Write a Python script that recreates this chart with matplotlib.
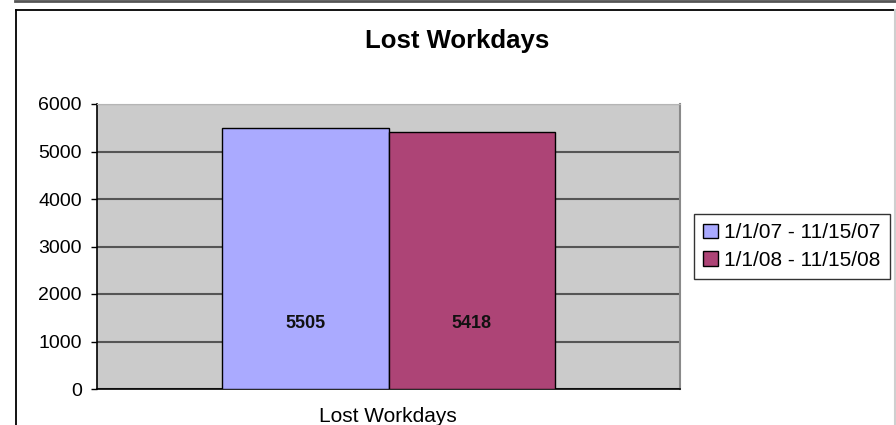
import matplotlib
matplotlib.use("Agg")
import matplotlib.pyplot as plt
from matplotlib.lines import Line2D
import numpy as np

# data
categories = ["Lost Workdays"]
series_names = ["1/1/07 - 11/15/07", "1/1/08 - 11/15/08"]
values_2007 = [5505]
values_2008 = [5418]
y_ticks = [0, 1000, 2000, 3000, 4000, 5000, 6000]

plt.rcParams['font.family'] = ['Liberation Sans', 'DejaVu Sans']

W, H = 896, 425
fig = plt.figure(figsize=(W / 100, H / 100), dpi=100)

# frame around the chart (screenshot border)
fig.add_artist(Line2D([15 / W, 1], [1 - 1 / H, 1 - 1 / H], color='#555555', lw=2))
fig.add_artist(Line2D([16 / W, 1], [1 - 9.5 / H, 1 - 9.5 / H], color='black', lw=1.3))
fig.add_artist(Line2D([16 / W, 16 / W], [0, 1 - 9.5 / H], color='black', lw=1.3))
fig.add_artist(Line2D([895 / W, 895 / W], [0, 1 - 10 / H], color='#cfcfcf', lw=1.5))

ax = fig.add_axes([97 / W, (H - 389) / H, 583 / W, 285 / H])
ax.set_facecolor('#cbcbcb')

x = np.arange(len(categories))
width = 0.2857
bars1 = ax.bar(x - width / 2, values_2007, width, color='#aaaaff', edgecolor='black',
               linewidth=1.0, label=series_names[0], zorder=3)
bars2 = ax.bar(x + width / 2, values_2008, width, color='#ad4476', edgecolor='black',
               linewidth=1.0, label=series_names[1], zorder=3)

for b, v in zip(list(bars1) + list(bars2), values_2007 + values_2008):
    ax.text(b.get_x() + b.get_width() / 2, 1380, str(v), ha='center', va='center',
            fontsize=13, fontweight='bold', color='#111111', zorder=4)

ax.set_xlim(-0.5, 0.5)
ax.set_ylim(0, 6000)
ax.set_yticks(y_ticks)
ax.set_yticklabels([str(t) for t in y_ticks], fontsize=14)
ax.set_xticks([])
ax.yaxis.grid(True, color='#555555', linewidth=1.5, zorder=1)
ax.set_axisbelow(True)
ax.tick_params(axis='y', direction='out', length=4, width=1, pad=7, colors='black')

ax.spines['left'].set_color('black')
ax.spines['bottom'].set_color('black')
ax.spines['left'].set_linewidth(1.2)
ax.spines['bottom'].set_linewidth(1.2)
ax.spines['top'].set_color('#b5b5b5')
ax.spines['right'].set_color('#8a8a8a')
ax.spines['right'].set_linewidth(1.5)

fig.text(457 / W, 1 - 41 / H, "Lost Workdays", ha='center', va='center',
         fontsize=18.5, fontweight='bold')
fig.text(388 / W, 1 - 417 / H, categories[0], ha='center', va='center', fontsize=15)

leg = ax.legend(loc='center left', bbox_to_anchor=(694 / W, 1 - 246.5 / H),
                bbox_transform=fig.transFigure, fontsize=15, frameon=True,
                fancybox=False, edgecolor='black', handlelength=0.7, handleheight=0.7,
                handletextpad=0.3, borderpad=0.45, labelspacing=0.4, borderaxespad=0)
leg.get_frame().set_linewidth(1.0)

fig.savefig("out.png", dpi=100)
